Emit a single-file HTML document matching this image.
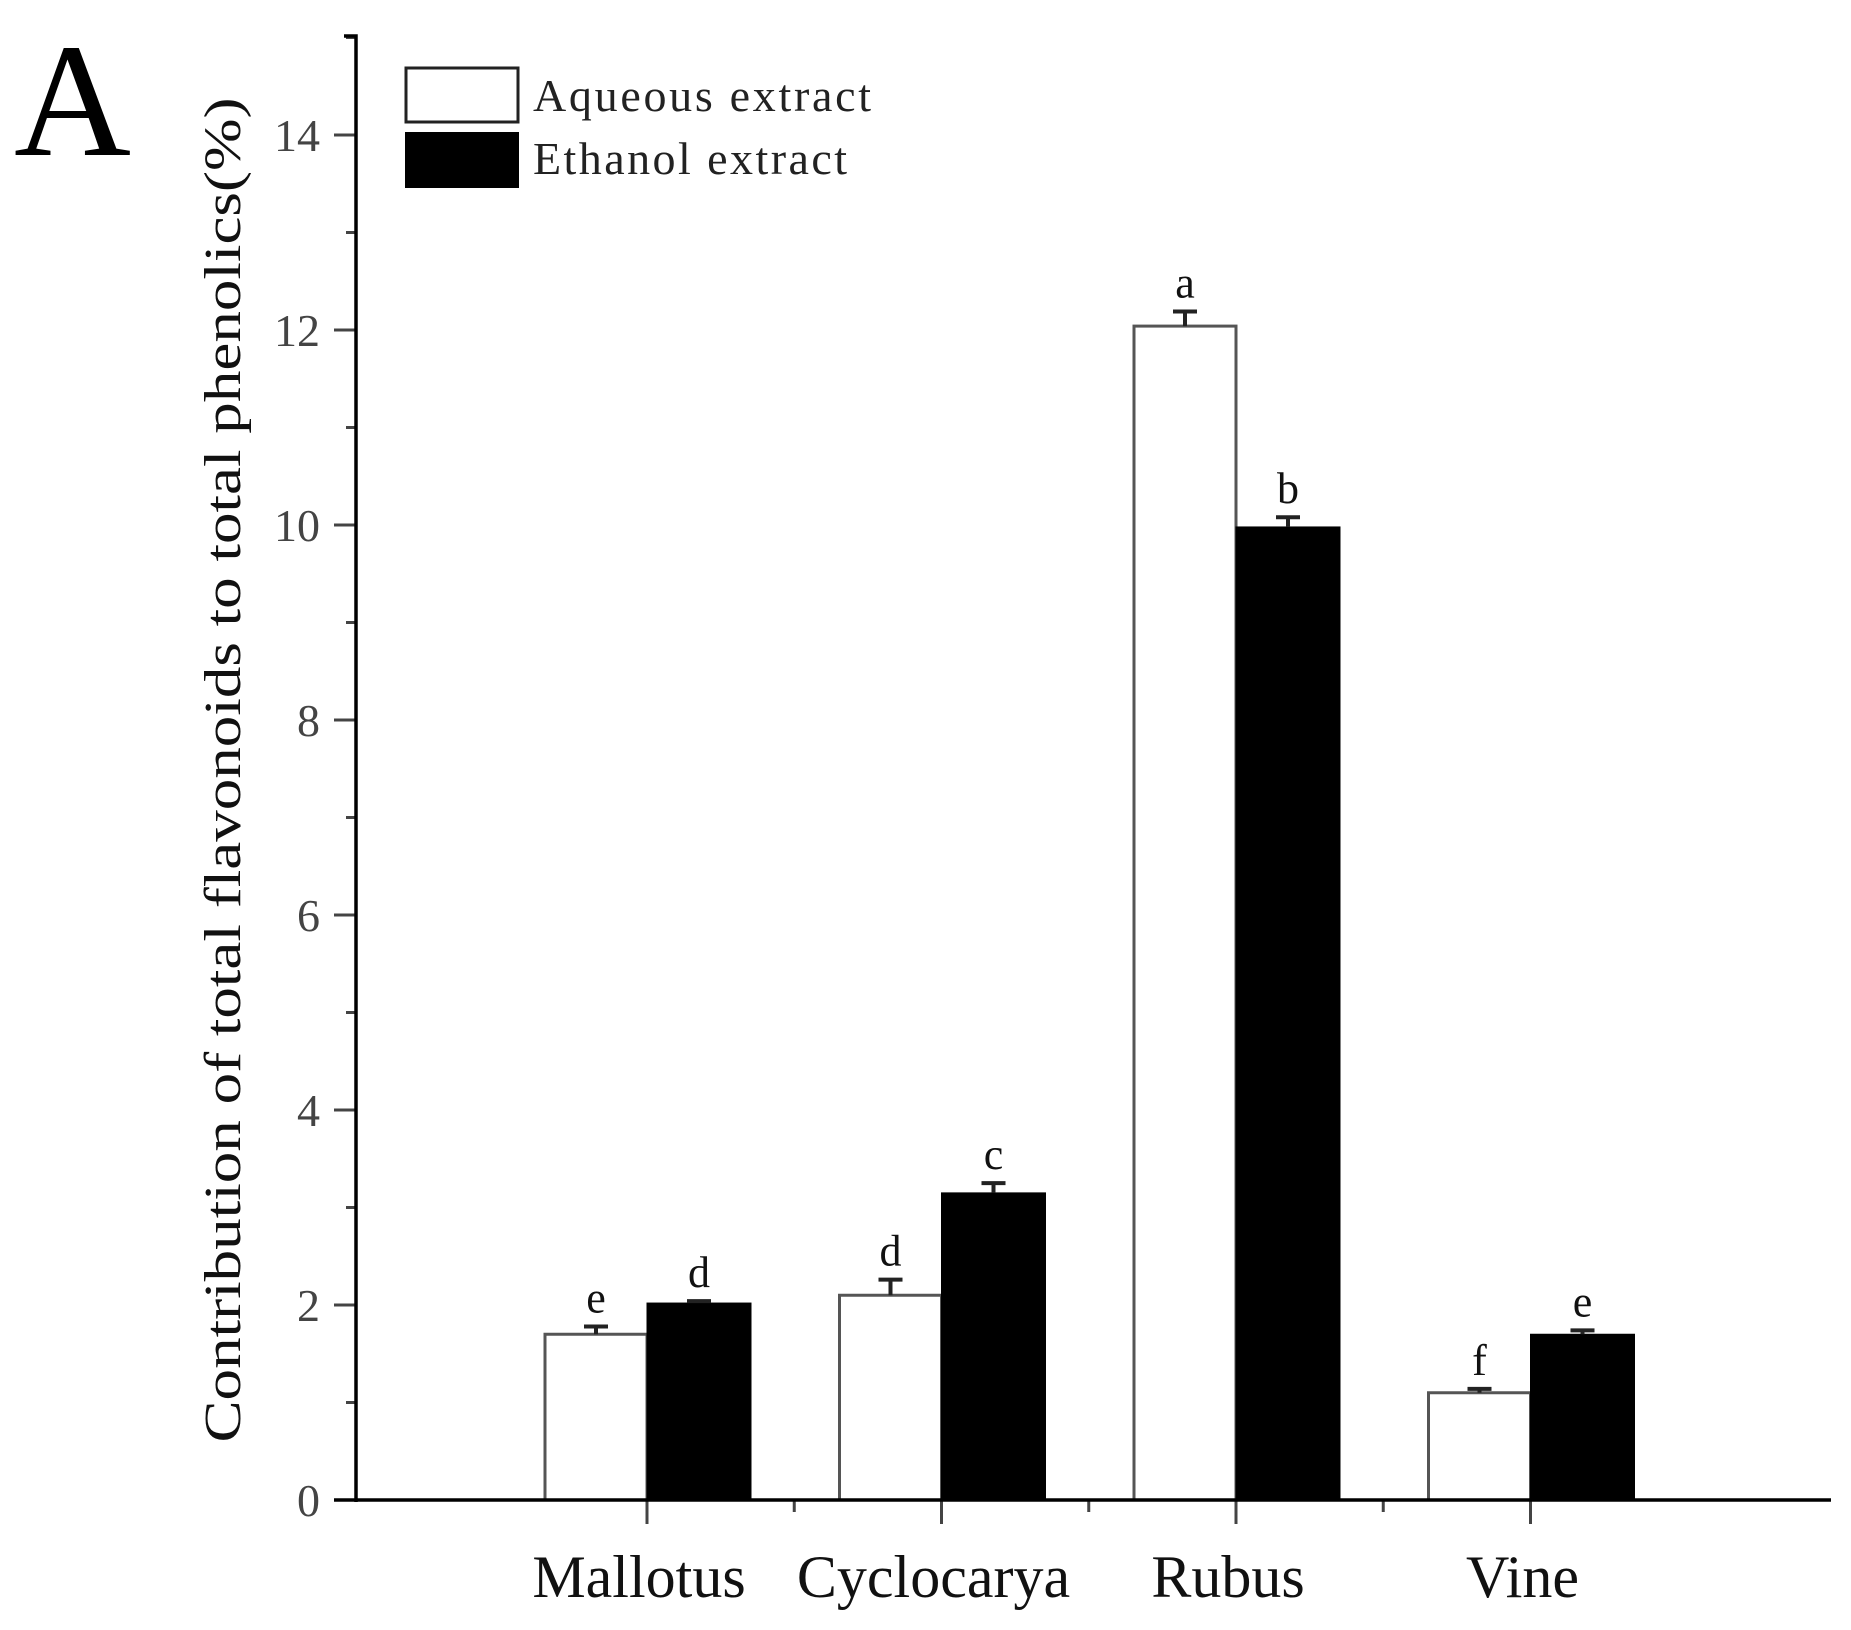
<!DOCTYPE html>
<html><head><meta charset="utf-8"><style>
html,body{margin:0;padding:0;background:#fff;}
svg{display:block;font-family:"Liberation Serif",serif;}
</style></head><body>
<svg id="chart" width="1851" height="1630" viewBox="0 0 1851 1630">
<text x="14" y="155" font-size="162" fill="#000">A</text>
<g id="legend">
 <g>
  <rect x="406" y="68" width="112" height="54" fill="#fff" stroke="#222" stroke-width="3"/>
  <text x="533" y="111" font-size="46" fill="#222" textLength="338" lengthAdjust="spacing">Aqueous extract</text>
 </g>
 <g>
  <rect x="405" y="132" width="114" height="56" fill="#000"/>
  <text x="533" y="174" font-size="46" fill="#222" textLength="314" lengthAdjust="spacing">Ethanol extract</text>
 </g>
</g>
<text transform="translate(240,770) rotate(-90)" text-anchor="middle" font-size="52" fill="#111" textLength="1345" lengthAdjust="spacingAndGlyphs">Contribution of total flavonoids to total phenolics(%)</text>
<g id="marks"></g>
</svg>
<script>
const categories = ["Mallotus", "Cyclocarya", "Rubus", "Vine"];
const aqueousValues = [1.70, 2.10, 12.04, 1.10];
const ethanolValues = [2.02, 3.15, 9.98, 1.70];
const aqueousErrors = [0.08, 0.16, 0.15, 0.04];
const ethanolErrors = [0.02, 0.10, 0.10, 0.04];
const aqueousLetters = ["e", "d", "a", "f"];
const ethanolLetters = ["d", "c", "b", "e"];
const yTicks = [0, 2, 4, 6, 8, 10, 12, 14];

const NS = "http://www.w3.org/2000/svg";
const g = document.getElementById("marks");
const X0 = 356, X1 = 1831, Y0 = 1500, YTOP = 36, UNIT = 97.5;
const firstCenter = 647, spacing = 294.5, barW = 102;
function y(v){ return Y0 - v * UNIT; }
function xc(i){ return firstCenter + i * spacing; }
function mk(tag, attrs){ const e = document.createElementNS(NS, tag); for (const k in attrs) e.setAttribute(k, attrs[k]); g.appendChild(e); return e; }

categories.forEach((c, i) => {
  const cx = xc(i);
  const a = mk("rect", {x: cx - barW, y: y(aqueousValues[i]), width: barW, height: Y0 - y(aqueousValues[i]), fill: "#fff", stroke: "#555", "stroke-width": 3});
  
  
  const b = mk("rect", {x: cx, y: y(ethanolValues[i]), width: barW + 2, height: Y0 - y(ethanolValues[i]), fill: "#000", stroke: "#000", "stroke-width": 1});
  
  
  [[cx - barW / 2, aqueousValues[i], aqueousErrors[i], aqueousLetters[i], "aqueous"], [cx + barW / 2 + 1, ethanolValues[i], ethanolErrors[i], ethanolLetters[i], "ethanol"]].forEach(([x, v, e, l, s]) => {
    const ey = y(v + e);
    const eb = mk("path", {d: `M${x},${y(v)}V${ey}M${x - 12},${ey}H${x + 12}`, stroke: "#222", "stroke-width": 4, fill: "none"});
    
    
    const t = mk("text", {x: x, y: ey - 14, "text-anchor": "middle", "font-size": 44, fill: "#111"});
    t.textContent = l;
    
    
  });
  const lab = mk("text", {x: cx - 8, y: 1597, "text-anchor": "middle", "font-size": 60, fill: "#111"});
  lab.textContent = c;
  
  
  const tk = mk("line", {x1: cx, x2: cx, y1: Y0, y2: Y0 + 24, stroke: "#444", "stroke-width": 3});
  
  
  if (i < categories.length - 1) {
    const mt = mk("line", {x1: cx + spacing / 2, x2: cx + spacing / 2, y1: Y0, y2: Y0 + 12, stroke: "#444", "stroke-width": 3});
    
    
  }
});

for (let v = 1; v <= 15; v += 2) {
  const m = mk("line", {x1: X0 - 10, x2: X0, y1: y(v), y2: y(v), stroke: "#444", "stroke-width": 3});
  
  
}
yTicks.forEach(v => {
  const t = mk("line", {x1: X0 - 22, x2: X0, y1: y(v), y2: y(v), stroke: "#444", "stroke-width": 3});
  
  
  const l = mk("text", {x: X0 - 36, y: y(v) + 16, "text-anchor": "end", "font-size": 46, fill: "#444"});
  l.textContent = v;
  
  
});
const ya = mk("path", {d: `M${X0 - 12},${YTOP}H${X0}V${Y0 + 2}`, stroke: "#000", "stroke-width": 3.5, fill: "none"});


const xa = mk("line", {x1: X0 - 22, x2: X1, y1: Y0, y2: Y0, stroke: "#000", "stroke-width": 3.5});


</script>
</body></html>
